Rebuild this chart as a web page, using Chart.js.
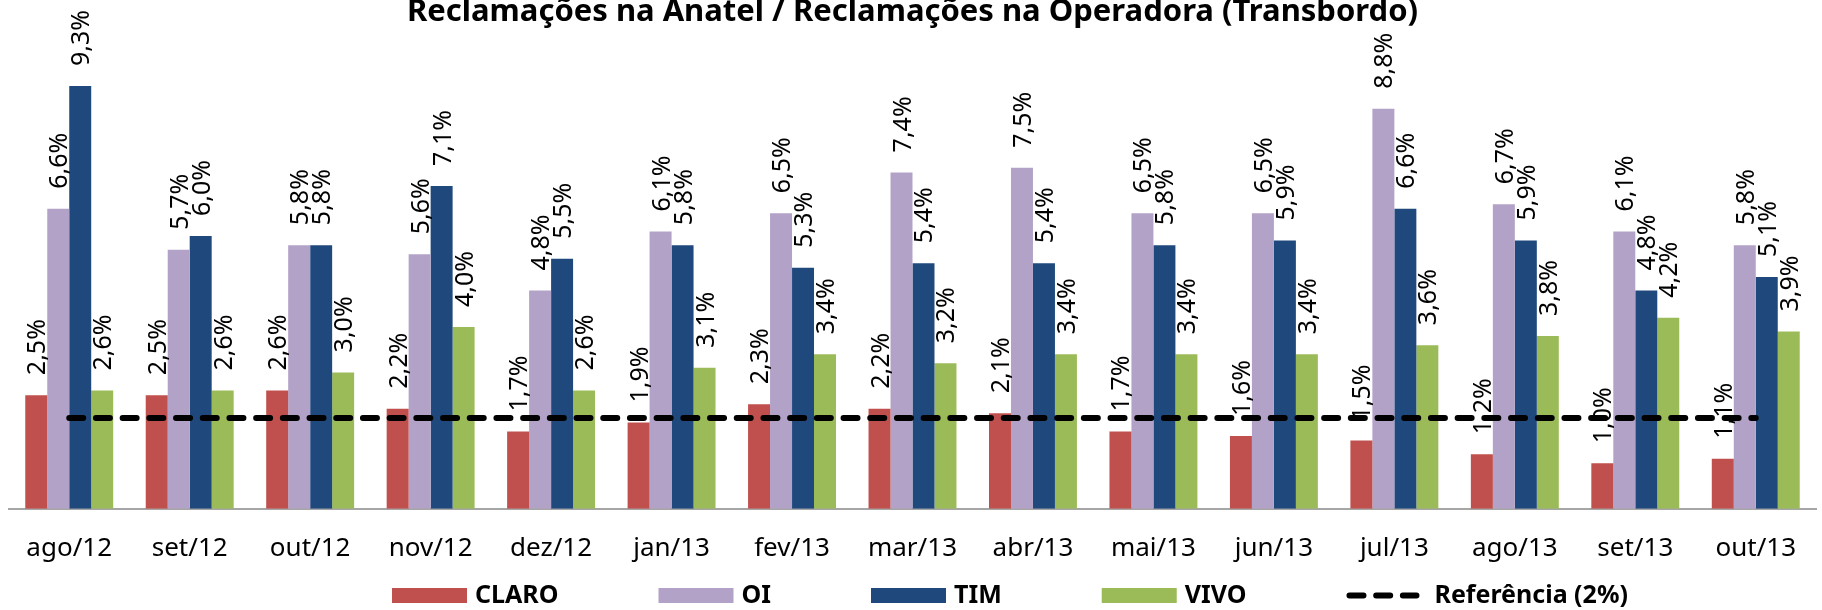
<!DOCTYPE html>
<html>
<head>
<meta charset="utf-8">
<script src="https://cdn.jsdelivr.net/npm/chart.js@4.4.1/dist/chart.umd.min.js"></script>
<style>
  html, body { margin: 0; padding: 0; background: #fff; }
</style>
</head>
<body>
<canvas id="transbordoChart" width="1822" height="610"></canvas>
<script>
// meses e percentuais de transbordo por operadora
const meses = ['ago/12', 'set/12', 'out/12', 'nov/12', 'dez/12', 'jan/13', 'fev/13', 'mar/13',
               'abr/13', 'mai/13', 'jun/13', 'jul/13', 'ago/13', 'set/13', 'out/13'];
const claro = [2.5, 2.5, 2.6, 2.2, 1.7, 1.9, 2.3, 2.2, 2.1, 1.7, 1.6, 1.5, 1.2, 1.0, 1.1];
const oi    = [6.6, 5.7, 5.8, 5.6, 4.8, 6.1, 6.5, 7.4, 7.5, 6.5, 6.5, 8.8, 6.7, 6.1, 5.8];
const tim   = [9.3, 6.0, 5.8, 7.1, 5.5, 5.8, 5.3, 5.4, 5.4, 5.8, 5.9, 6.6, 5.9, 4.8, 5.1];
const vivo  = [2.6, 2.6, 3.0, 4.0, 2.6, 3.1, 3.4, 3.2, 3.4, 3.4, 3.4, 3.6, 3.8, 4.2, 3.9];
const referencia = [2, 2, 2, 2, 2, 2, 2, 2, 2, 2, 2, 2, 2, 2, 2];

const fonte = '"Noto Sans", "Open Sans", sans-serif';

// rótulos girados acima das barras (desenhados antes da linha de referência)
const rotulos = {
    id: 'rotulos',
    beforeDatasetDraw(chart, args) {
        if (args.meta.type !== 'line') return;
        const ctx = chart.ctx;
        ctx.save();
        ctx.font = '25px ' + fonte;
        ctx.fillStyle = '#000';
        ctx.textAlign = 'left';
        ctx.textBaseline = 'alphabetic';
        chart.data.datasets.forEach((ds, i) => {
            if (ds.type === 'line') return;
            chart.getDatasetMeta(i).data.forEach((bar, j) => {
                const txt = ds.data[j].toFixed(1).replace('.', ',') + '%';
                ctx.save();
                ctx.translate(bar.x + 9, bar.y - 20);
                ctx.rotate(-Math.PI / 2);
                ctx.fillText(txt, 0, 0);
                ctx.restore();
            });
        });
        ctx.restore();
    }
};

// legenda própria (deslocada para a direita como no original)
const legenda = {
    id: 'legenda',
    afterDraw(chart) {
        const ctx = chart.ctx;
        ctx.save();
        ctx.font = 'bold 25px ' + fonte;
        ctx.textBaseline = 'alphabetic';
        let x = 392;
        const yBox = 588, yTxt = 603;
        chart.data.datasets.forEach(ds => {
            if (ds.type === 'line') {
                ctx.save();
                ctx.strokeStyle = ds.borderColor;
                ctx.lineWidth = ds.borderWidth;
                ctx.lineCap = 'round';
                ctx.setLineDash(ds.borderDash);
                ctx.beginPath();
                ctx.moveTo(x + 3, yBox + 7.5);
                ctx.lineTo(x + 70, yBox + 7.5);
                ctx.stroke();
                ctx.restore();
                x += 88;
            } else {
                ctx.fillStyle = ds.backgroundColor;
                ctx.fillRect(x, yBox, 75, 15);
                x += 83;
            }
            ctx.fillStyle = '#000';
            ctx.fillText(ds.label, x, yTxt);
            x += ctx.measureText(ds.label).width + 100;
        });
        ctx.restore();
    }
};

const ctx = document.getElementById('transbordoChart').getContext('2d');
const transbordoChart = new Chart(ctx, {
    data: {
        labels: meses,
        datasets: [
            { type: 'bar', label: 'CLARO', data: claro, backgroundColor: '#C0504D', order: 1 },
            { type: 'bar', label: 'OI', data: oi, backgroundColor: '#B3A2C7', order: 1 },
            { type: 'bar', label: 'TIM', data: tim, backgroundColor: '#1F497D', order: 1 },
            { type: 'bar', label: 'VIVO', data: vivo, backgroundColor: '#9BBB59', order: 1 },
            {
                type: 'line',
                label: 'Referência (2%)',
                data: referencia,
                borderColor: '#000',
                borderWidth: 6,
                borderDash: [14, 12.7],
                borderCapStyle: 'round',
                pointRadius: 0,
                fill: false,
                order: 0
            }
        ]
    },
    options: {
        responsive: false,
        animation: false,
        devicePixelRatio: 1,
        datasets: {
            bar: { categoryPercentage: 0.73, barPercentage: 1, borderWidth: 0 }
        },
        layout: { padding: { left: 9, right: 6, bottom: 22 } },
        plugins: {
            legend: { display: false },
            tooltip: { enabled: false },
            title: {
                display: true,
                text: 'Reclamações na Anatel / Reclamações na Operadora (Transbordo)',
                color: '#000',
                font: { family: fonte, size: 31, weight: 'bold', lineHeight: 1.2 },
                padding: { top: -6, bottom: 23 }
            }
        },
        scales: {
            x: {
                grid: { display: false, drawTicks: false },
                border: { display: true, color: '#a6a6a6', width: 2 },
                ticks: {
                    color: '#000',
                    font: { family: fonte, size: 26 },
                    padding: 24,
                    autoSkip: false,
                    maxRotation: 0
                }
            },
            y: { display: false, min: 0, max: 10 }
        }
    },
    plugins: [rotulos, legenda]
});
</script>
</body>
</html>
